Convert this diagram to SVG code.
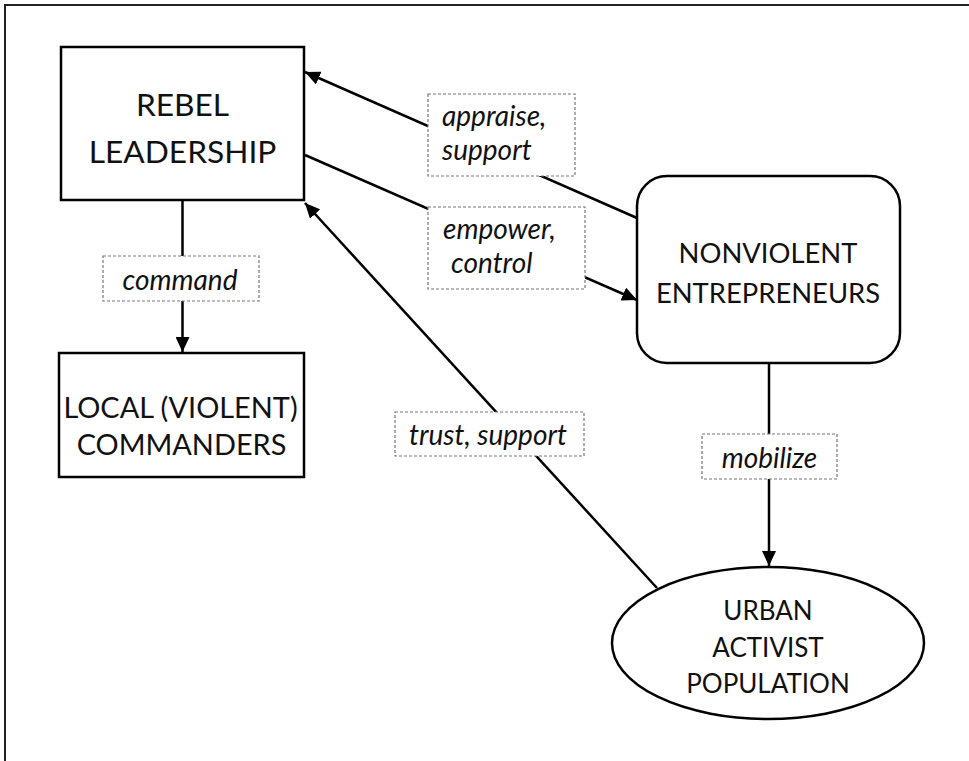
<svg xmlns="http://www.w3.org/2000/svg" width="969" height="761" viewBox="0 0 969 761">
  <style>
    .node { fill: #fff; stroke: #000; stroke-width: 2.5; }
    .ntext { font-family: Lato, "Liberation Sans", sans-serif; fill: #111; text-anchor: middle; }
    .edge { fill: none; stroke: #000; stroke-width: 2.5; }
    .lbox { fill: #fff; stroke: #777; stroke-width: 1.2; stroke-dasharray: 3 2; }
    .ltext { font-family: Lato, "Liberation Sans", sans-serif; font-style: italic; font-size: 28px; fill: #111; }
  </style>
  <defs>
    <marker id="arrow" markerUnits="userSpaceOnUse" markerWidth="15" markerHeight="14" refX="15" refY="7" orient="auto">
      <path d="M0,0 L15,7 L0,14 Z" fill="#000"/>
    </marker>
  </defs>

  <rect width="969" height="761" fill="#fff"/>
  <!-- outer frame -->
  <path d="M5,761 V5 H969" fill="none" stroke="#222" stroke-width="2"/>

  <!-- connectors -->
  <g id="connectors">
    <line class="edge" x1="637" y1="218" x2="305" y2="72" marker-end="url(#arrow)"/>
    <line class="edge" x1="305" y1="155" x2="637" y2="300" marker-end="url(#arrow)"/>
    <line class="edge" x1="657" y1="588" x2="305" y2="203" marker-end="url(#arrow)"/>
    <line class="edge" x1="182.5" y1="200" x2="182.5" y2="352" marker-end="url(#arrow)"/>
    <line class="edge" x1="769" y1="363" x2="769" y2="566" marker-end="url(#arrow)"/>

    <g id="label-appraise">
      <rect class="lbox" x="428" y="94" width="147" height="82"/>
      <text class="ltext" x="442" y="126">appraise,</text>
      <text class="ltext" x="442" y="160">support</text>
    </g>
    <g id="label-empower">
      <rect class="lbox" x="428" y="207" width="157" height="82"/>
      <text class="ltext" x="443" y="239">empower,</text>
      <text class="ltext" x="451" y="273">control</text>
    </g>
    <g id="label-command">
      <rect class="lbox" x="103" y="256" width="156" height="45"/>
      <text class="ltext" x="180" y="290" text-anchor="middle">command</text>
    </g>
    <g id="label-trust">
      <rect class="lbox" x="395" y="412" width="189" height="44"/>
      <text class="ltext" x="409" y="445">trust, support</text>
    </g>
    <g id="label-mobilize">
      <rect class="lbox" x="702" y="434" width="135" height="45"/>
      <text class="ltext" x="769.5" y="468" text-anchor="middle">mobilize</text>
    </g>
  </g>

  <g id="rebel-leadership">
    <rect class="node" x="61" y="47" width="243" height="153"/>
    <text class="ntext" x="182.5" y="116" font-size="31.7">REBEL</text>
    <text class="ntext" x="182.5" y="163" font-size="31.7">LEADERSHIP</text>
  </g>

  <g id="local-commanders">
    <rect class="node" x="59" y="353" width="245" height="124"/>
    <text class="ntext" x="180.5" y="418" font-size="28.9">LOCAL (VIOLENT)</text>
    <text class="ntext" x="181.5" y="455" font-size="28.9">COMMANDERS</text>
  </g>

  <g id="nonviolent-entrepreneurs">
    <rect class="node" x="637" y="176" width="263" height="187" rx="30" ry="30"/>
    <text class="ntext" x="768" y="263" font-size="27.4">NONVIOLENT</text>
    <text class="ntext" x="768" y="303" font-size="27.4">ENTREPRENEURS</text>
  </g>

  <g id="urban-activist-population">
    <ellipse class="node" cx="768" cy="643" rx="156" ry="76"/>
    <text class="ntext" x="768" y="620" font-size="26">URBAN</text>
    <text class="ntext" x="768" y="657" font-size="26">ACTIVIST</text>
    <text class="ntext" x="768" y="693" font-size="26">POPULATION</text>
  </g>
</svg>
